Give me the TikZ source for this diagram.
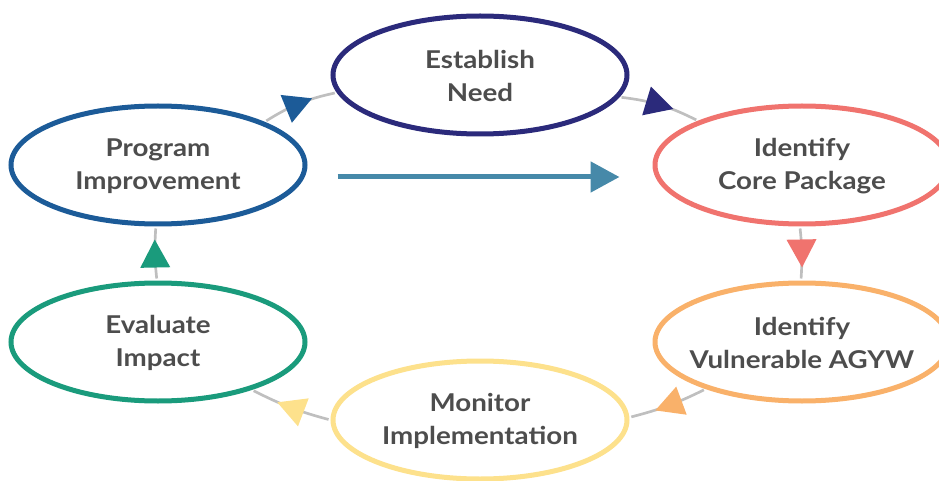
\documentclass[tikz,border=0pt]{standalone}
\usepackage{fontspec}
\setmainfont{Lato}[FakeStretch=1.13]
\usepackage{tikz}
\usetikzlibrary{arrows.meta, shapes.geometric, decorations.markings}

\definecolor{needblue}{HTML}{2B2A7B}
\definecolor{progblue}{HTML}{1C5B98}
\definecolor{coresalmon}{HTML}{F0736E}
\definecolor{vulnorange}{HTML}{F9B16A}
\definecolor{monyellow}{HTML}{FDE18C}
\definecolor{evalgreen}{HTML}{1A9B7C}
\definecolor{flowteal}{HTML}{4689A9}
\definecolor{ringgray}{HTML}{BFBFBF}
\definecolor{txtgray}{HTML}{4D4D4D}

\begin{document}
\begin{tikzpicture}[x=0.75pt, y=-0.75pt,
			stage/.style={ellipse, draw=#1, line width=3.75pt, fill=white,
				minimum width=220.5pt, minimum height=88.5pt, inner sep=0pt},
			txt/.style={text=txtgray, align=center, yshift=-1pt,
				font=\fontsize{18.4}{24.75}\selectfont\bfseries},
			ring/.style={draw=ringgray, line width=2pt,
				shorten <=1.5pt, shorten >=1.5pt, postaction={decorate},
				decoration={markings, mark=at position .5 with
					{\arrow[xshift=10.5pt]{Triangle[length=21pt, width=22pt, color=#1]}}}},
			flow/.style={draw=flowteal, line width=3.75pt,
				-{Triangle[length=21.75pt, width=22.5pt]}}]
			
			\useasboundingbox (0,0) rectangle (939,481);
			
			\node[stage=needblue, label={[txt]center:{Establish\\Need}}] (need) at (480,75) {};
			\node[stage=coresalmon, label={[txt]center:{Identify\\Core Package}}] (core) at (802,165) {};
			\node[stage=vulnorange, label={[txt]center:{Identify\\Vulnerable AGYW}}] (vuln) at (802,342) {};
			\node[stage=monyellow, label={[txt]center:{Monitor\\Implementation}}] (mon) at (480,420) {};
			\node[stage=evalgreen, label={[txt]center:{Evaluate\\Impact}}] (eval) at (158,342) {};
			\node[stage=progblue, label={[txt]center:{Program\\Improvement}}] (prog) at (158,165) {};
			
			\draw[ring=progblue] (prog.22) to[bend left=10] (need.187);
			\draw[ring=needblue] (need.351) to[bend left=10] (core.157);
			\draw[ring=coresalmon] (core.268) to[bend left=5] (vuln.91);
			\draw[ring=vulnorange] (vuln.206) to[bend left=6] (mon.1);
			\draw[ring=monyellow] (mon.180) to[bend left=6] (eval.333);
			\draw[ring=evalgreen] (eval.91) to[bend left=5] (prog.268);
			
			\draw[flow] ([xshift=22.5pt, yshift=-9pt]prog.east) -- ([xshift=-24.75pt, yshift=-9pt]core.west);
		\end{tikzpicture}
\end{document}
